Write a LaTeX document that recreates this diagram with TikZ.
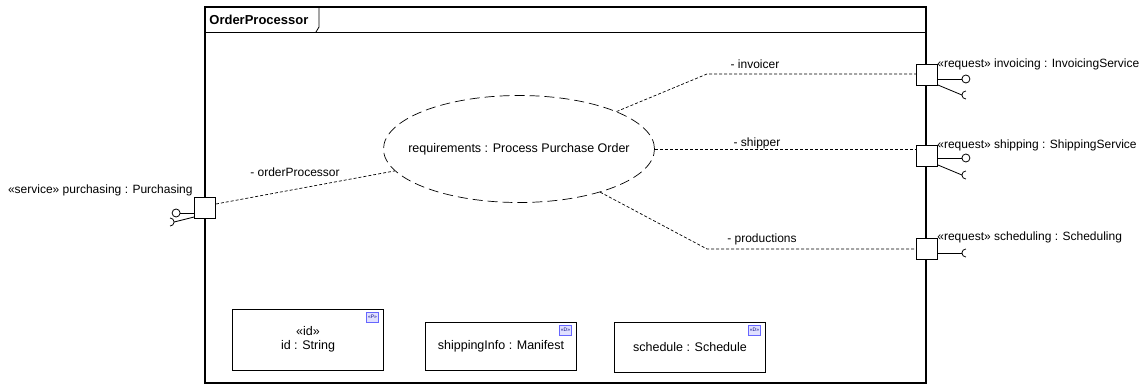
\documentclass[tikz,border=0pt]{standalone}
\usepackage{fontspec}
\setmainfont{Liberation Sans}
\usetikzlibrary{arrows.meta,positioning,shapes.geometric}

\begin{document}
\begin{tikzpicture}[
    x=1pt, y=-1pt, line width=0.8pt,
    port/.style={draw, fill=white, minimum size=21pt, inner sep=0pt},
    link/.style={line width=0.7pt, dash pattern=on 3pt off 2pt},
    lbl/.style={font=\fontsize{12}{14}\selectfont, inner sep=1pt},
    partbox/.style={draw, fill=white, align=center, minimum width=151pt, font=\fontsize{12.5}{14}\selectfont},
    icon/.style={draw=blue!60, fill=blue!12, text=blue!50!black, minimum width=12pt, minimum height=10pt, inner sep=0pt, font=\fontsize{5}{5}\selectfont}
]
\useasboundingbox (0,0) rectangle (1141,385);
% frame with name tab
\draw[line width=1.8pt] (205,7) rectangle (926,383);
\draw (205,32) -- (926,32);
\draw (319,7) -- (319,27) -- (316,32);
\node[anchor=west, font=\fontsize{13}{14}\selectfont\bfseries, inner sep=0pt] (title) at (209,20) {OrderProcessor};
% ports
\node[port] (purch) at (205,208) {};
\node[port] (inv) at (927,75) {};
\node[port] (ship) at (927,156) {};
\node[port] (sched) at (927,249) {};
\node[lbl, anchor=east] (purchlbl) at (194,190) {«service» purchasing : Purchasing};
\node[lbl, anchor=west] (invlbl) at (936,64) {«request» invoicing : InvoicingService};
\node[lbl, anchor=west] (shiplbl) at (936,145) {«request» shipping : ShippingService};
\node[lbl, anchor=west] (schedlbl) at (936,237) {«request» scheduling : Scheduling};
% provided / required interfaces
\draw (purch.west |- 0,213) -- ++(-14,0) coordinate (purchball);
\draw (purchball) ++(-4,0) circle (4);
\draw (purch.west |- 0,217) -- ++(-20,5) coordinate (purchsock);
\draw (purchsock) ++(-4,-4) arc (-90:90:4);
\draw (inv.east |- 0,79) -- ++(24,0) coordinate (invball);
\draw (invball) ++(4,0) circle (4);
\draw (inv.east |- 0,85) -- ++(24,10) coordinate (invsock);
\draw (invsock) ++(4,4) arc (90:270:4);
\draw (ship.east |- 0,158) -- ++(24,0) coordinate (shipball);
\draw (shipball) ++(4,0) circle (4);
\draw (ship.east |- 0,165) -- ++(24,10) coordinate (shipsock);
\draw (shipsock) ++(4,4) arc (90:270:4);
\draw (sched.east |- 0,253) -- ++(24,0) coordinate (schedsock);
\draw (schedsock) ++(4,4) arc (90:270:4);
% collaboration use
\node[lbl, font=\fontsize{12.5}{14}\selectfont, draw, line width=0.7pt, dash pattern=on 10pt off 5pt, ellipse, minimum width=271pt, minimum height=107pt, inner xsep=-40pt, inner ysep=0pt] (req) at (519,149) {requirements : Process Purchase Order};
% role bindings
\draw[link] (purch.east |- 0,204) -- (req.190);
\node[lbl] (oprole) at (295,172) {- orderProcessor};
\coordinate (invbend) at (707,74);
\coordinate (schedbend) at (707,249);
\draw[link] (req.21) -- (invbend) -- (inv.west |- invbend);
\node[lbl] (invrole) at (755,64) {- invoicer};
\draw[link] (req.east) -- (ship.west |- req.east);
\node[lbl] (shiprole) at (757,143) {- shipper};
\draw[link] (req.-28) -- (schedbend) -- (sched.west |- schedbend);
\node[lbl] (schedrole) at (762,239) {- productions};
% owned attributes
\node[partbox, minimum height=61pt] (idpart) at (308,339.5) {«id»\\id : String};
\node[partbox, minimum height=48pt] (shippart) at (501,346) {shippingInfo : Manifest};
\node[partbox, minimum height=50pt] (schedpart) at (690,347) {schedule : Schedule};
\node[icon, below left=3pt and 5pt of idpart.north east] (idicon) {«P»};
\node[icon, below left=3pt and 5pt of shippart.north east] (shipicon) {«D»};
\node[icon, below left=3pt and 5pt of schedpart.north east] (schedicon) {«D»};
\end{tikzpicture}
\end{document}
